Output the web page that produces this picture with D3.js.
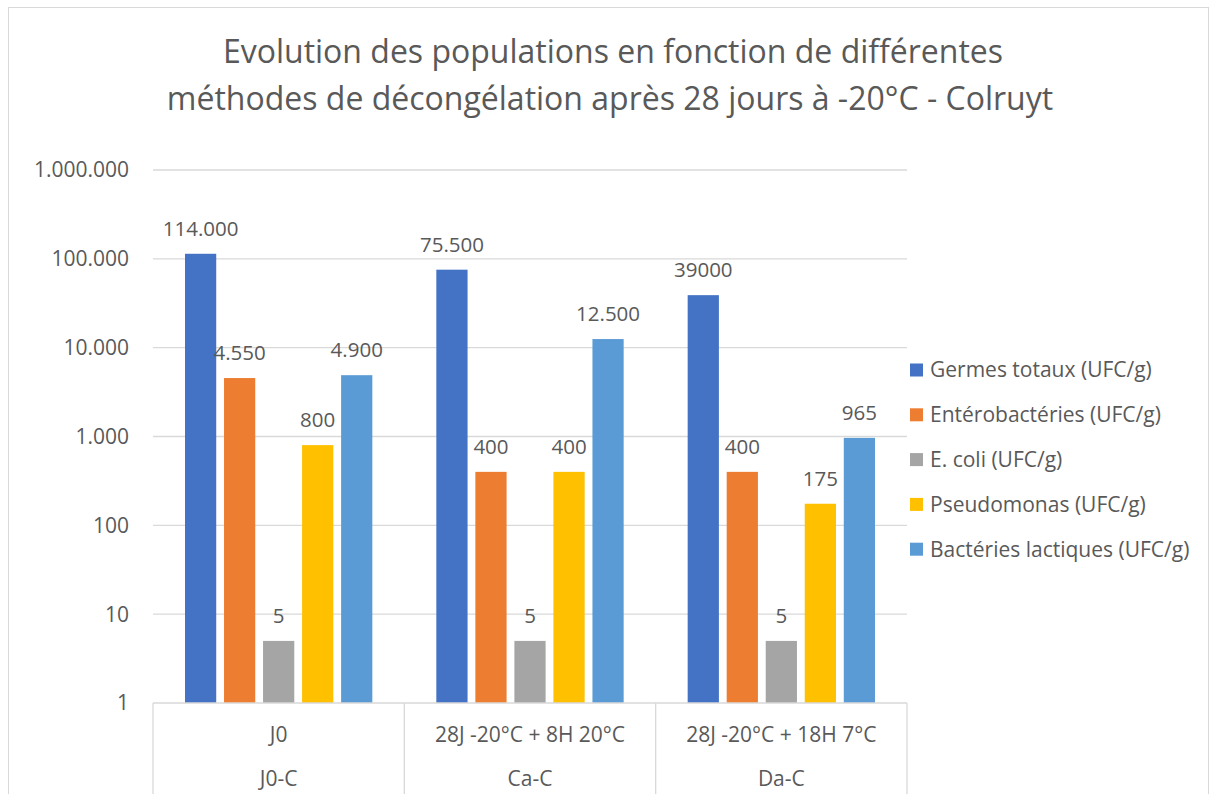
<!DOCTYPE html>
<html>
<head>
<meta charset="utf-8">
<script src="https://cdn.jsdelivr.net/npm/d3@7"></script>
<style>
  body { margin: 0; background: #fff; }
  svg text { font-family: "Open Sans", "Noto Sans", sans-serif; fill: #595959; }
</style>
</head>
<body>
<script>
// data
const categories = ["J0", "28J -20°C + 8H 20°C", "28J -20°C + 18H 7°C"]
const groups = ["J0-C", "Ca-C", "Da-C"]
const seriesNames = ["Germes totaux (UFC/g)", "Entérobactéries (UFC/g)", "E. coli (UFC/g)", "Pseudomonas (UFC/g)", "Bactéries lactiques (UFC/g)"]
const germes = [114000, 75500, 39000]
const entero = [4550, 400, 400]
const ecoli = [5, 5, 5]
const pseudo = [800, 400, 175]
const lactiques = [4900, 12500, 965]
const labels = [
    ["114.000", "75.500", "39000"],
    ["4.550", "400", "400"],
    ["5", "5", "5"],
    ["800", "400", "175"],
    ["4.900", "12.500", "965"]
]
const tickValues = [1, 10, 100, 1000, 10000, 100000, 1000000]
const tickLabels = ["1", "10", "100", "1.000", "10.000", "100.000", "1.000.000"]
const colors = ["#4472C4", "#ED7D31", "#A5A5A5", "#FFC000", "#5B9BD5"]

const values = [germes, entero, ecoli, pseudo, lactiques]

const W = 1214, H = 794
const pLeft = 153, pRight = 907, pTop = 170, pBottom = 703

const svg = d3.select("body").append("svg")
    .attr("width", W)
    .attr("height", H)

// chart border
svg.append("rect")
    .attr("x", 8.5).attr("y", 7.5)
    .attr("width", 1200).attr("height", 800)
    .attr("fill", "none")
    .attr("stroke", "#d9d9d9")

// title
svg.append("text")
    .attr("x", 613).attr("y", 63)
    .attr("text-anchor", "middle")
    .style("font-size", "32px")
    .text("Evolution des populations en fonction de différentes")
svg.append("text")
    .attr("x", 610).attr("y", 110)
    .attr("text-anchor", "middle")
    .style("font-size", "32px")
    .text("méthodes de décongélation après 28 jours à -20°C - Colruyt")

const y = d3.scaleLog().domain([1, 1000000]).range([pBottom, pTop])
const x0 = d3.scaleBand().domain(categories).range([pLeft, pRight])
const x1 = d3.scaleBand().domain(d3.range(seriesNames.length))
    .range([32, x0.bandwidth() - 32]).paddingInner(0.2)

// gridlines
svg.append("g")
    .selectAll("line")
    .data(tickValues.slice(1))
    .enter()
    .append("line")
    .attr("x1", pLeft).attr("x2", pRight)
    .attr("y1", d => y(d)).attr("y2", d => y(d))
    .attr("stroke", "#d9d9d9")
    .attr("stroke-width", 1.3)

// y axis labels
svg.append("g")
    .selectAll("text")
    .data(tickValues)
    .enter()
    .append("text")
    .attr("x", 129)
    .attr("y", d => y(d))
    .attr("dy", "0.35em")
    .attr("text-anchor", "end")
    .style("font-size", "21px")
    .text((d, i) => tickLabels[i])

// bars
const rows = []
values.forEach((s, si) => s.forEach((v, ci) => rows.push({ si, ci, v, label: labels[si][ci] })))

svg.append("g")
    .selectAll("rect")
    .data(rows)
    .enter()
    .append("rect")
    .attr("x", d => x0(categories[d.ci]) + x1(d.si))
    .attr("width", x1.bandwidth())
    .attr("y", d => y(d.v))
    .attr("height", d => pBottom - y(d.v))
    .attr("fill", d => colors[d.si])

svg.append("g")
    .selectAll("text")
    .data(rows)
    .enter()
    .append("text")
    .attr("x", d => x0(categories[d.ci]) + x1(d.si) + x1.bandwidth() / 2)
    .attr("y", d => y(d.v) - 18)
    .attr("text-anchor", "middle")
    .style("font-size", "20.5px")
    .text(d => d.label)

// category axis
svg.append("line")
    .attr("x1", pLeft).attr("x2", pRight)
    .attr("y1", pBottom).attr("y2", pBottom)
    .attr("stroke", "#d9d9d9").attr("stroke-width", 1.3)

svg.append("g")
    .selectAll("line")
    .data(categories.concat(["end"]))
    .enter()
    .append("line")
    .attr("x1", (d, i) => pLeft + i * x0.step())
    .attr("x2", (d, i) => pLeft + i * x0.step())
    .attr("y1", pBottom).attr("y2", H)
    .attr("stroke", "#d9d9d9").attr("stroke-width", 1.3)

svg.append("g")
    .selectAll("text")
    .data(categories)
    .enter()
    .append("text")
    .attr("x", d => x0(d) + x0.bandwidth() / 2)
    .attr("y", 742)
    .attr("text-anchor", "middle")
    .style("font-size", "21px")
    .text(d => d)

svg.append("g")
    .selectAll("text")
    .data(groups)
    .enter()
    .append("text")
    .attr("x", (d, i) => x0(categories[i]) + x0.bandwidth() / 2)
    .attr("y", 786)
    .attr("text-anchor", "middle")
    .style("font-size", "21px")
    .text(d => d)

// legend
const legend = svg.append("g")
    .selectAll("g")
    .data(seriesNames)
    .enter()
    .append("g")
    .attr("transform", (d, i) => `translate(910, ${370 + i * 44.8})`)

legend.append("rect")
    .attr("x", 0).attr("y", -6.5)
    .attr("width", 13).attr("height", 13)
    .attr("fill", (d, i) => colors[i])

legend.append("text")
    .attr("x", 20)
    .attr("dy", "0.35em")
    .style("font-size", "21px")
    .text(d => d)
</script>
</body>
</html>
